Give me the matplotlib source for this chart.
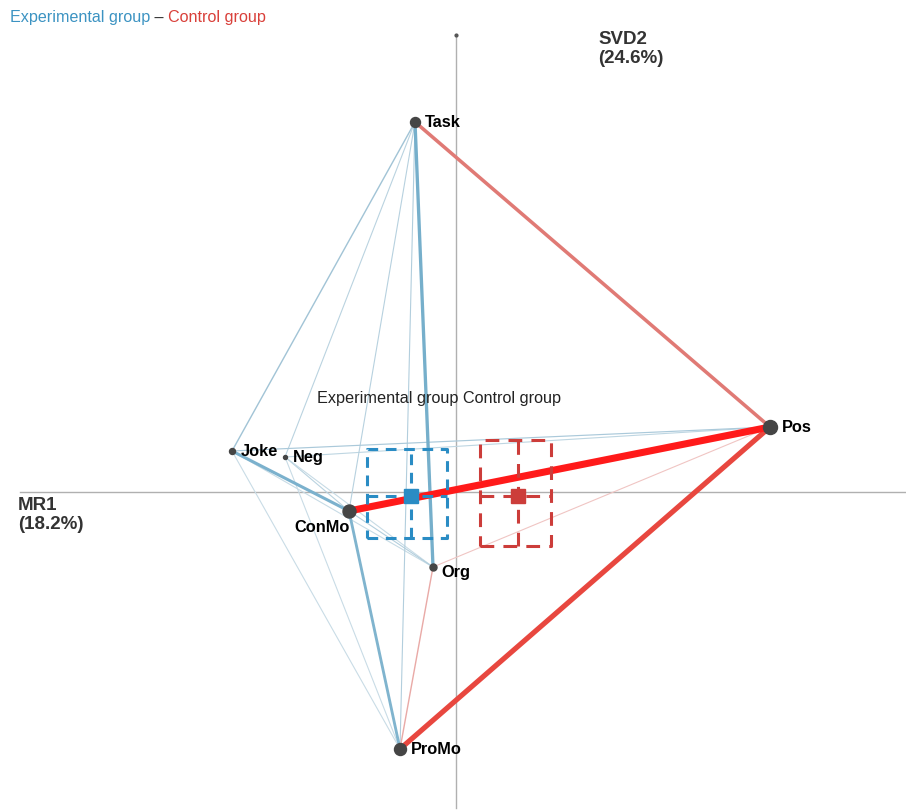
import matplotlib.pyplot as plt
from matplotlib.colors import LinearSegmentedColormap

plt.rcParams['font.family'] = ['Liberation Sans', 'DejaVu Sans']

# node positions in the projected space (MR1, SVD2)
nodes = ['Task', 'Pos', 'Joke', 'Neg', 'ConMo', 'Org', 'ProMo']
node_x = [-0.41, 3.14, -2.24, -1.71, -1.07, -0.23, -0.56]
node_y = [3.70, 0.65, 0.41, 0.35, -0.19, -0.75, -2.57]
node_size = [10, 14, 6, 4, 13, 7, 12]

# subtracted edge weights: positive = control stronger, negative = experimental stronger
edge_a = ['ConMo', 'ProMo', 'Task', 'Org', 'Org', 'Task', 'Joke', 'ConMo', 'Task', 'Task',
          'Task', 'Task', 'Joke', 'Neg', 'ConMo', 'Joke', 'Neg', 'Neg', 'Joke', 'Neg']
edge_b = ['Pos', 'Pos', 'Pos', 'ProMo', 'Pos', 'Org', 'ConMo', 'ProMo', 'Joke', 'Neg',
          'ConMo', 'ProMo', 'Pos', 'Pos', 'Org', 'ProMo', 'ProMo', 'ConMo', 'Org', 'Org']
edge_w = [0.30, 0.22, 0.15, 0.06, 0.02, -0.14, -0.13, -0.12, -0.06, -0.03,
          -0.035, -0.04, -0.05, -0.025, -0.04, -0.012, -0.012, -0.03, -0.015, -0.015]

# group means and confidence intervals
exp_mean = (-0.45, -0.04)
exp_ci_x = (-0.89, -0.09)
exp_ci_y = (-0.46, 0.43)
ctl_mean = (0.62, -0.04)
ctl_ci_x = (0.24, 0.95)
ctl_ci_y = (-0.54, 0.52)

reds = LinearSegmentedColormap.from_list(
    'reds', [(0, '#f3d3d1'), (0.2, '#e9aaa7'), (0.5, '#e07a75'), (0.73, '#e8483f'), (1, '#ff1a1a')])
blues = LinearSegmentedColormap.from_list(
    'blues', [(0, '#d2e2ea'), (0.2, '#a2c4d6'), (0.45, '#78b0cc'), (1, '#3a8bb5')])
WMAX = 0.30


def edge_style(w):
    t = min(1.0, abs(w) / WMAX)
    cmap = reds if w > 0 else blues
    return {'color': cmap(t), 'lw': max(0.8, 17 * abs(w))}


def draw_ci(ax, mean, cx, cy, color, dash):
    kw = dict(color=color, lw=2.2, linestyle=(0, dash), zorder=4)
    ax.plot([cx[0], cx[1], cx[1], cx[0], cx[0]], [cy[0], cy[0], cy[1], cy[1], cy[0]], **kw)
    ax.plot([mean[0], mean[0]], cy, **kw)
    ax.plot(cx, [mean[1], mean[1]], **kw)
    ax.plot(*mean, marker='s', ms=10, color=color, zorder=5)


def main():
    fig = plt.figure(figsize=(9.06, 8.10), dpi=100)
    ax = fig.add_axes([0, 0, 1, 1])
    ax.set_xlim(-4.56, 4.50)
    ax.set_ylim(-3.18, 4.92)
    ax.axis('off')

    # axes through the origin
    ax.plot([-4.36, 4.49], [0, 0], color='#b0b0b0', lw=1, zorder=0)
    ax.plot([0, 0], [-3.16, 4.57], color='#b0b0b0', lw=1, zorder=0)
    ax.plot(0, 4.57, marker='o', ms=2, color='#555555')

    pos = {n: (x, y) for n, x, y in zip(nodes, node_x, node_y)}
    order = sorted(range(len(edge_w)), key=lambda i: abs(edge_w[i]))
    for i in order:
        (x1, y1), (x2, y2) = pos[edge_a[i]], pos[edge_b[i]]
        ax.plot([x1, x2], [y1, y2], solid_capstyle='round', zorder=1 + abs(edge_w[i]),
                **edge_style(edge_w[i]))

    draw_ci(ax, exp_mean, exp_ci_x, exp_ci_y, '#2a8cc4', (3.5, 2.5))
    draw_ci(ax, ctl_mean, ctl_ci_x, ctl_ci_y, '#cc3d3a', (4.5, 3))

    for n, x, y, s in zip(nodes, node_x, node_y, node_size):
        ax.plot(x, y, 'o', ms=s * 0.72, color='#454545', zorder=6)
        kw = dict(va='center', fontsize=11.8, fontweight='bold', zorder=7)
        if n == 'ConMo':
            ax.text(x + 0.01, y - 0.17, n, ha='right', **kw)
        elif n == 'Org':
            ax.text(x + 0.08, y - 0.06, n, ha='left', **kw)
        else:
            off = 0.06 + s * 0.004
            ax.text(x + off, y - 0.01, n, ha='left', **kw)

    ax.text(-1.39, 0.93, 'Experimental group Control group', fontsize=11.7,
            ha='left', va='center', color='#222222')
    ax.text(-4.38, -0.05, 'MR1\n(18.2%)', fontsize=13.5, fontweight='bold',
            ha='left', va='top', color='#333333', linespacing=1.15)
    ax.text(1.42, 4.61, 'SVD2\n(24.6%)', fontsize=13.5, fontweight='bold',
            ha='left', va='top', color='#333333', linespacing=1.15)

    t1 = fig.text(0.011, 0.979, 'Experimental group', color='#3c93c2', fontsize=11.6,
                  ha='left', va='center')
    fig.canvas.draw()
    bb = t1.get_window_extent().transformed(fig.transFigure.inverted())
    t2 = fig.text(bb.x1, 0.979, ' \u2013 ', color='#333333', fontsize=11.6, ha='left', va='center')
    bb = t2.get_window_extent().transformed(fig.transFigure.inverted())
    fig.text(bb.x1, 0.979, 'Control group', color='#d9403a', fontsize=11.6,
             ha='left', va='center')

    plt.savefig('out.png', dpi=100)


if __name__ == '__main__':
    main()
